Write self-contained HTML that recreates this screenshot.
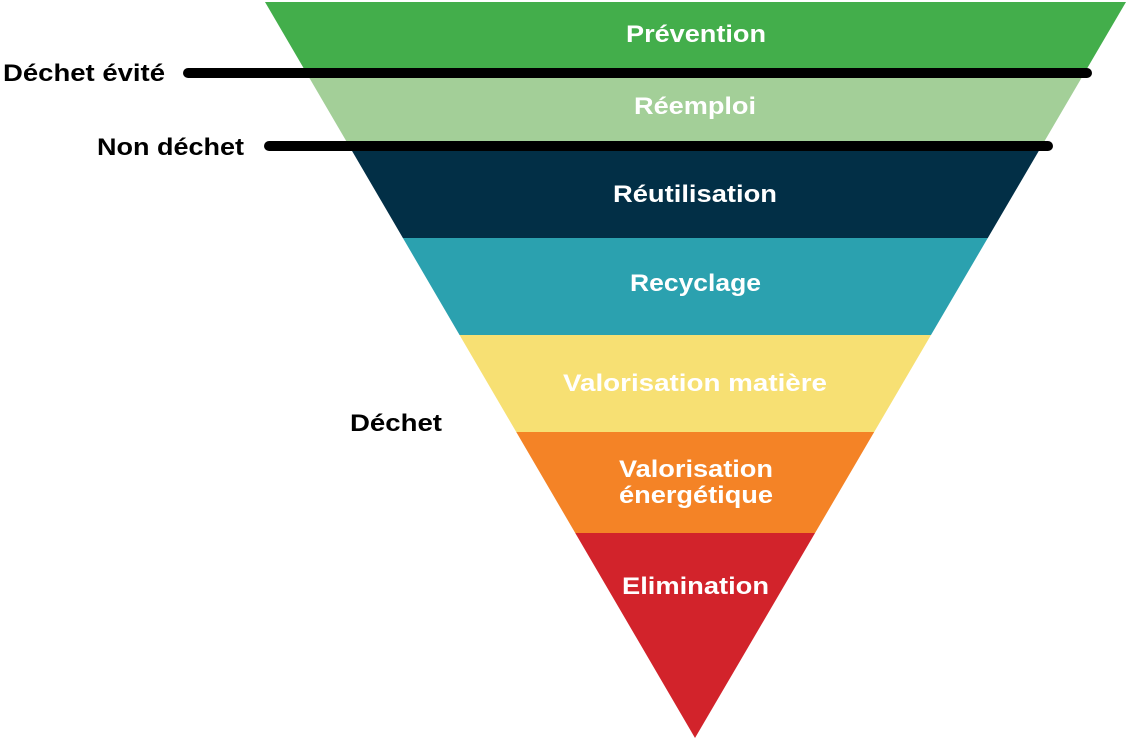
<!DOCTYPE html>
<html><head><meta charset="utf-8"><style>
html,body{margin:0;padding:0;background:#fff;width:1130px;height:742px;overflow:hidden}
svg text{font-family:"Liberation Sans",sans-serif;font-weight:bold}
</style></head><body>
<svg width="1130" height="742" viewBox="0 0 1130 742">
<defs><clipPath id="tri"><polygon points="265,2 1126,2 695,738"/></clipPath></defs>
<g clip-path="url(#tri)">
<rect x="0" y="0" width="1130" height="73" fill="#43ae4b"/>
<rect x="0" y="73" width="1130" height="73" fill="#a3cf98"/>
<rect x="0" y="146" width="1130" height="92" fill="#022f46"/>
<rect x="0" y="238" width="1130" height="97" fill="#2ba1af"/>
<rect x="0" y="335" width="1130" height="97" fill="#f7e073"/>
<rect x="0" y="432" width="1130" height="101" fill="#f48326"/>
<rect x="0" y="533" width="1130" height="210" fill="#d2232b"/>
</g>
<line x1="188" y1="73" x2="1087" y2="73" stroke="#000" stroke-width="10" stroke-linecap="round"/>
<line x1="269" y1="146" x2="1048" y2="146" stroke="#000" stroke-width="10" stroke-linecap="round"/>
<g font-size="24" fill="#000">
<text x="3" y="81" textLength="162" lengthAdjust="spacingAndGlyphs">Déchet évité</text>
<text x="97" y="155" textLength="147" lengthAdjust="spacingAndGlyphs">Non déchet</text>
<text x="350" y="431" textLength="92" lengthAdjust="spacingAndGlyphs">Déchet</text>
</g>
<g font-size="24" fill="#fff">
<text x="626" y="42" textLength="140" lengthAdjust="spacingAndGlyphs">Prévention</text>
<text x="634" y="114" textLength="122" lengthAdjust="spacingAndGlyphs">Réemploi</text>
<text x="613" y="202" textLength="164" lengthAdjust="spacingAndGlyphs">Réutilisation</text>
<text x="630" y="291" textLength="131" lengthAdjust="spacingAndGlyphs">Recyclage</text>
<text x="563" y="391" textLength="264" lengthAdjust="spacingAndGlyphs">Valorisation matière</text>
<text x="619" y="477" textLength="154" lengthAdjust="spacingAndGlyphs">Valorisation</text>
<text x="619" y="503" textLength="154" lengthAdjust="spacingAndGlyphs">énergétique</text>
<text x="622" y="594" textLength="147" lengthAdjust="spacingAndGlyphs">Elimination</text>
</g>
</svg>
</body></html>
